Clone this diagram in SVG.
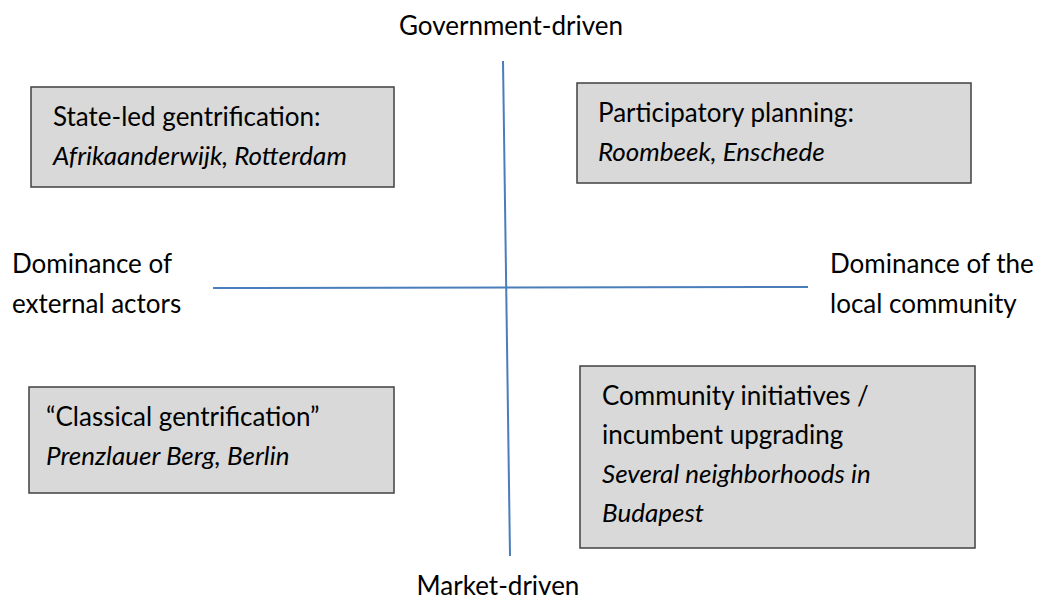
<svg xmlns="http://www.w3.org/2000/svg" width="1047" height="599" viewBox="0 0 1047 599">
  <style>
    text { font-family: Lato, "Liberation Sans", sans-serif; font-size: 26px; fill: #000; }
    .it { font-style: italic; }
    .box { fill: #D9D9D9; stroke: #404040; stroke-width: 1.5; }
    .axis { stroke: #4A7EBB; stroke-width: 2; fill: none; }
  </style>
  <rect width="1047" height="599" fill="#fff"/>

  <!-- axes -->
  <g id="connectors">
    <line class="axis" x1="503" y1="61" x2="510" y2="556"/>
    <line class="axis" x1="213" y1="288" x2="808" y2="287"/>
  </g>

  <!-- axis labels -->
  <g id="label-top"><text x="511" y="35" text-anchor="middle">Government-driven</text></g>
  <g id="label-bottom"><text x="498" y="595" text-anchor="middle">Market-driven</text></g>
  <g id="label-left">
    <text x="12" y="273">Dominance of</text>
    <text x="12" y="313">external actors</text>
  </g>
  <g id="label-right">
    <text x="830" y="273">Dominance of the</text>
    <text x="830" y="313">local community</text>
  </g>

  <!-- quadrant boxes -->
  <g id="state-led">
    <rect class="box" x="31" y="87" width="363" height="100"/>
    <text x="53" y="126">State-led gentrification:</text>
    <text x="53" y="165" class="it">Afrikaanderwijk, Rotterdam</text>
  </g>
  <g id="participatory">
    <rect class="box" x="577" y="83" width="394" height="100"/>
    <text x="598" y="122">Participatory planning:</text>
    <text x="598" y="161" class="it">Roombeek, Enschede</text>
  </g>
  <g id="classical">
    <rect class="box" x="29" y="387" width="365" height="106"/>
    <text x="46" y="426">“Classical gentrification”</text>
    <text x="46" y="465" class="it">Prenzlauer Berg, Berlin</text>
  </g>
  <g id="community">
    <rect class="box" x="580" y="366" width="395" height="182"/>
    <text x="602" y="405">Community initiatives /</text>
    <text x="602" y="444">incumbent upgrading</text>
    <text x="602" y="483" class="it">Several neighborhoods in</text>
    <text x="602" y="522" class="it">Budapest</text>
  </g>
</svg>
